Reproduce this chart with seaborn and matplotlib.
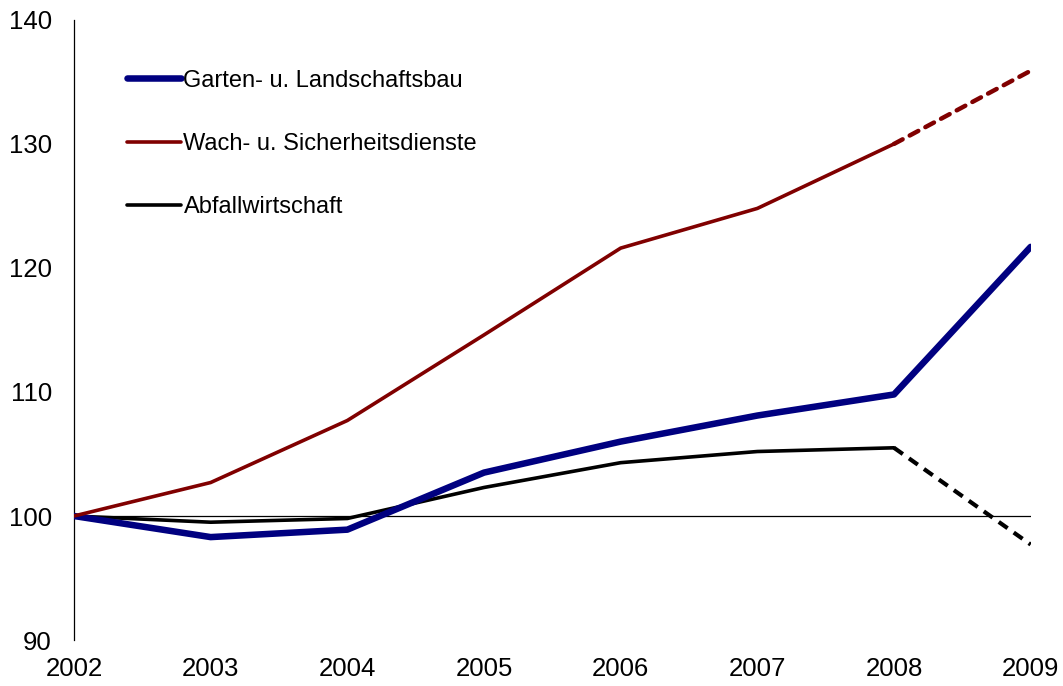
import matplotlib
matplotlib.use("Agg")
import matplotlib.pyplot as plt
import pandas as pd
import seaborn as sns

years = [2002, 2003, 2004, 2005, 2006, 2007, 2008, 2009]
garten = [100.0, 98.3, 98.9, 103.5, 106.0, 108.1, 109.8, 121.7]
wach = [100.0, 102.7, 107.7, 114.6, 121.6, 124.8, 130.0, 135.9]
abfall = [100.0, 99.5, 99.8, 102.3, 104.3, 105.2, 105.5, 97.7]

names = ["Garten- u. Landschaftsbau", "Wach- u. Sicherheitsdienste", "Abfallwirtschaft"]
colors = ["#000080", "#800000", "#000000"]
widths = [4.7, 2.6, 2.6]

sns.set_theme(style="white")
plt.rcParams["font.family"] = ["Liberation Sans", "DejaVu Sans"]

fig = plt.figure(figsize=(10.63, 6.86), dpi=100)
ax = fig.add_axes([0.0696, 0.067, 0.9, 0.904])

ax.axhline(100, color="black", lw=0.9, zorder=1)

# solid part
df_g = pd.DataFrame({"year": years, "value": garten})
sns.lineplot(data=df_g, x="year", y="value", ax=ax, color=colors[0], lw=widths[0],
             label=names[0], zorder=3, solid_capstyle="round")

df_w = pd.DataFrame({"year": years[:7], "value": wach[:7]})
sns.lineplot(data=df_w, x="year", y="value", ax=ax, color=colors[1], lw=widths[1],
             label=names[1], zorder=3)
df_a = pd.DataFrame({"year": years[:7], "value": abfall[:7]})
sns.lineplot(data=df_a, x="year", y="value", ax=ax, color=colors[2], lw=widths[2],
             label=names[2], zorder=2)

# forecast part (dashed)
df_w2 = pd.DataFrame({"year": years[6:], "value": wach[6:]})
sns.lineplot(data=df_w2, x="year", y="value", ax=ax, color=colors[1], lw=widths[1] + 0.6,
             dashes=False, linestyle=(0, (2.2, 1.8)), dash_capstyle="round", zorder=3)
df_a2 = pd.DataFrame({"year": years[6:], "value": abfall[6:]})
sns.lineplot(data=df_a2, x="year", y="value", ax=ax, color=colors[2], lw=widths[2] + 0.4,
             dashes=False, linestyle=(0, (2.6, 1.8)), zorder=2)

ax.set_xlim(2002, 2009)
ax.set_ylim(90, 140)
ax.set_xticks(years)
ax.set_yticks([90, 100, 110, 120, 130, 140])
ax.tick_params(axis="both", length=0, labelsize=18.5, colors="black")
ax.tick_params(axis="y", pad=16)
ax.tick_params(axis="x", pad=12)
ax.set_xlabel("")
ax.set_ylabel("")
for s in ["top", "right", "bottom"]:
    ax.spines[s].set_visible(False)
ax.spines["left"].set_color("black")
ax.spines["left"].set_linewidth(0.9)

leg = ax.legend(loc="upper left", bbox_to_anchor=(0.033, 0.954), frameon=False,
                fontsize=17, handlelength=2.3, handletextpad=0.1, labelspacing=1.75)
for t in leg.get_texts():
    t.set_color("black")

fig.savefig("out.png", dpi=100)
